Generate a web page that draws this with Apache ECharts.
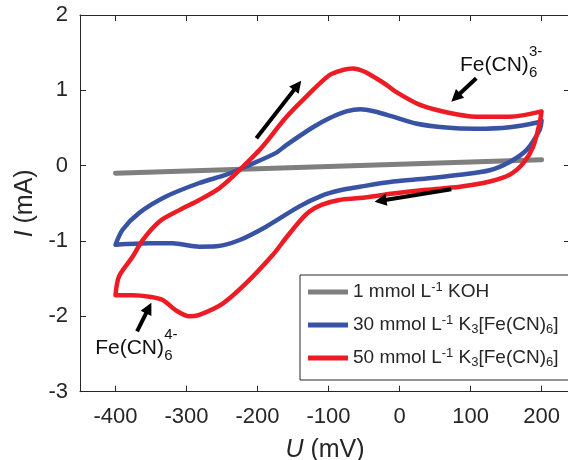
<!DOCTYPE html>
<html><head><meta charset="utf-8">
<script src="https://cdn.jsdelivr.net/npm/echarts@6/dist/echarts.min.js"></script>
<style>html,body{margin:0;padding:0;background:#fff}#c{width:568px;height:460px}</style>
</head><body><div id="c"></div>
<script>
// ---- data ----
const xTicks = [-400, -300, -200, -100, 0, 100, 200];
const yTicks = [-3, -2, -1, 0, 1, 2];
const seriesNames = ['1 mmol L-1 KOH', '30 mmol L-1 K3[Fe(CN)6]', '50 mmol L-1 K3[Fe(CN)6]'];
const legendLabels = [
  '1 mmol L{sup|-1} KOH',
  '30 mmol L{sup|-1} K{sub|3}[Fe(CN){sub|6}]',
  '50 mmol L{sup|-1} K{sub|3}[Fe(CN){sub|6}]'
];
// 1 mmol/L KOH
const kohU = [-400, 200];
const kohI = [-0.10, 0.08];
// 30 mmol/L K3[Fe(CN)6]
const c30U = [-400, -390, -367, -329, -282, -244, -216, -174, -160, -122, -99, -75, -55, -35, -9, 23, 61, 108, 155, 197, 200,
              197, 179, 155, 127, 85, 38, -9, -56, -85, -110, -141, -188, -226, -258, -282, -320, -352, -385, -400];
const c30I = [-1.05, -0.85, -0.63, -0.41, -0.23, -0.12, -0.01, 0.17, 0.27, 0.51, 0.63, 0.72, 0.75, 0.72, 0.65, 0.56, 0.51, 0.49, 0.51, 0.58, 0.60,
              0.47, 0.21, 0.05, -0.06, -0.12, -0.17, -0.21, -0.28, -0.33, -0.40, -0.54, -0.81, -0.99, -1.07, -1.075, -1.03, -1.03, -1.04, -1.05];
// 50 mmol/L K3[Fe(CN)6]
const c50U = [-400, -395, -376, -362, -338, -310, -282, -254, -235, -216, -197, -188, -160, -131, -99, -80, -66, -50, -33, -18, -5, 28, 61, 108, 155, 200,
              197, 188, 174, 155, 127, 85, 38, -9, -56, -85, -110, -127, -141, -160, -179, -216, -249, -282, -296, -315, -334, -352, -376, -400];
const c50I = [-1.72, -1.47, -1.21, -0.99, -0.74, -0.59, -0.455, -0.30, -0.146, 0.03, 0.21, 0.31, 0.64, 0.92, 1.20, 1.27, 1.29, 1.25, 1.16, 1.07, 0.98, 0.81, 0.72, 0.65, 0.65, 0.72,
              0.56, 0.25, 0.03, -0.12, -0.21, -0.28, -0.32, -0.37, -0.43, -0.455, -0.52, -0.61, -0.74, -0.96, -1.19, -1.56, -1.83, -1.98, -2.0, -1.92, -1.78, -1.74, -1.72, -1.72];
// scan-direction arrows (tail -> head), data coordinates
const arrowTailU = [-201.7, 72.8, 108, -369.7];
const arrowTailI = [0.364, -0.313, 1.16, -2.20];
const arrowHeadU = [-143.6, -26.9, 79, -353.3];
const arrowHeadI = [1.066, -0.465, 0.904, -1.89];
// ion annotations
const annU = [84.4, -429.3];
const annI = [1.337, -2.42];
const annSup = ['3-', '4-'];
const annSub = ['6', '6'];

const colors = ['#7f7f7f', '#3953a4', '#ed1c24'];
const ink = '#262626';
const FONT = "'Liberation Sans', Arial, sans-serif";

const zip = (a, b) => a.map((v, i) => [v, b[i]]);

const arrowData = arrowTailU.map((u, i) => [
  { coord: [u, arrowTailI[i]] },
  { coord: [arrowHeadU[i], arrowHeadI[i]] }
]);

const annData = [];
annU.forEach((u, i) => {
  const base = { coord: [u, annI[i]], symbolSize: 1, itemStyle: { color: 'rgba(0,0,0,0)' } };
  annData.push(Object.assign({}, base, { label: { show: true, position: 'right', distance: 0, formatter: 'Fe(CN)', fontSize: 21, color: '#111', fontFamily: FONT } }));
  annData.push(Object.assign({}, base, { label: { show: true, position: 'right', distance: 0, offset: [69, 8], formatter: annSub[i], fontSize: 15, color: '#111', fontFamily: FONT } }));
  annData.push(Object.assign({}, base, { label: { show: true, position: 'right', distance: 0, offset: [69, -13], formatter: annSup[i], fontSize: 15, color: '#111', fontFamily: FONT } }));
});

const axisCommon = {
  axisLine: { show: true, onZero: false, lineStyle: { color: ink, width: 1 } },
  splitLine: { show: false }
};

const chart = echarts.init(document.getElementById('c'), null, { renderer: 'canvas' });
chart.setOption({
  animation: false,
  backgroundColor: '#fff',
  textStyle: { fontFamily: FONT },
  grid: { left: 80, top: 15, width: 490, height: 376.7, containLabel: false, outerBoundsMode: 'none' },
  xAxis: [
    Object.assign({}, axisCommon, {
      type: 'value', min: -450, max: 240, position: 'bottom',
      axisTick: { show: true, inside: true, length: 6, customValues: xTicks, lineStyle: { color: ink } },
      axisLabel: { customValues: xTicks, fontSize: 22, color: ink, margin: 14, fontFamily: FONT },
      name: '{i|U} (mV)', nameLocation: 'middle', nameGap: 46,
      nameTextStyle: { fontSize: 25, color: ink, fontFamily: FONT, rich: { i: { fontStyle: 'italic', fontSize: 25, fontFamily: FONT, color: ink } } }
    }),
    Object.assign({}, axisCommon, {
      type: 'value', min: -450, max: 240, position: 'top',
      axisTick: { show: true, inside: true, length: 6, customValues: xTicks, lineStyle: { color: ink } },
      axisLabel: { show: false }
    })
  ],
  yAxis: [
    Object.assign({}, axisCommon, {
      type: 'value', min: -3, max: 2, interval: 1, position: 'left',
      axisTick: { show: true, inside: true, length: 6, lineStyle: { color: ink } },
      axisLabel: { fontSize: 22, color: ink, margin: 12, fontFamily: FONT },
      name: '{i|I} (mA)', nameLocation: 'middle', nameGap: 37,
      nameTextStyle: { fontSize: 25, color: ink, fontFamily: FONT, rich: { i: { fontStyle: 'italic', fontSize: 25, fontFamily: FONT, color: ink } } }
    }),
    Object.assign({}, axisCommon, {
      type: 'value', min: -3, max: 2, interval: 1, position: 'right',
      axisTick: { show: true, inside: true, length: 6, lineStyle: { color: ink } },
      axisLabel: { show: false }
    })
  ],
  legend: {
    orient: 'vertical', left: 300, top: 275, padding: [6, 40, 11, 8], itemGap: 11,
    itemWidth: 40, itemHeight: 5, icon: 'rect', selectedMode: false,
    borderColor: ink, borderWidth: 1, backgroundColor: '#fff',
    data: seriesNames,
    formatter: n => legendLabels[seriesNames.indexOf(n)],
    textStyle: {
      fontSize: 19, color: ink, lineHeight: 22, fontFamily: FONT,
      rich: {
        sup: { fontSize: 13, lineHeight: 13, verticalAlign: 'top', color: ink, fontFamily: FONT },
        sub: { fontSize: 13, lineHeight: 8, verticalAlign: 'bottom', color: ink, fontFamily: FONT }
      }
    }
  },
  series: [
    {
      name: seriesNames[0], type: 'line', data: zip(kohU, kohI), showSymbol: false, symbol: 'none',
      lineStyle: { width: 5, color: colors[0], cap: 'round' }, itemStyle: { color: colors[0] }, z: 2,
      markLine: {
        silent: true, symbol: ['none', 'triangle'], symbolSize: [12, 12],
        label: { show: false }, lineStyle: { color: '#000', width: 4, type: 'solid' },
        itemStyle: { color: '#000' }, emphasis: { disabled: true }, data: arrowData
      }
    },
    {
      name: seriesNames[1], type: 'line', data: zip(c30U, c30I), showSymbol: false, symbol: 'none', smooth: 0.3,
      lineStyle: { width: 4.5, color: colors[1], cap: 'round', join: 'round' }, itemStyle: { color: colors[1] }, z: 3
    },
    {
      name: seriesNames[2], type: 'line', data: zip(c50U, c50I), showSymbol: false, symbol: 'none', smooth: 0.3,
      lineStyle: { width: 4.5, color: colors[2], cap: 'round', join: 'round' }, itemStyle: { color: colors[2] }, z: 4,
      markPoint: { silent: true, symbol: 'circle', data: annData }
    }
  ]
});
</script>
</body></html>
